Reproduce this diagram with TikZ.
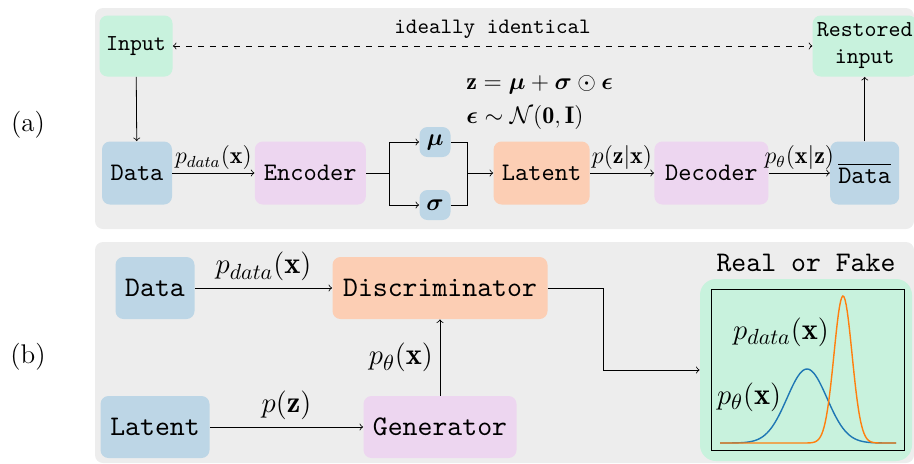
\documentclass[tikz,border=0pt]{standalone}
\usepackage{amsmath}
\usepackage{bm}
\usepackage{fontspec}
\setmonofont{lmmono10-regular.otf}
\usetikzlibrary{positioning,backgrounds}

\definecolor{panel}{RGB}{237,237,237}
\definecolor{cblue}{RGB}{189,214,230}
\definecolor{cpurple}{RGB}{237,214,240}
\definecolor{corange}{RGB}{252,206,180}
\definecolor{cgreen}{RGB}{200,242,221}
\definecolor{pltblue}{RGB}{31,119,180}
\definecolor{pltorange}{RGB}{255,127,14}

\tikzset{
  blk/.style={rounded corners=4pt,inner sep=1pt,minimum height=31.5pt,font=\ttfamily\fontsize{12.6}{14}\selectfont},
  bigblk/.style={blk,minimum height=31pt,font=\ttfamily\fontsize{14.2}{16}\selectfont},
  smallblk/.style={blk,minimum height=30.5pt,align=center,font=\ttfamily\fontsize{11.4}{13.5}\selectfont},
  lbl/.style={inner sep=1.5pt,font=\fontsize{12}{14}\selectfont},
  biglbl/.style={font=\fontsize{15.2}{17}\selectfont},
  panelbox/.style={fill=panel,rounded corners=4pt}
}

\begin{document}
\begin{tikzpicture}[x=0.5pt,y=-0.5pt]
    \useasboundingbox (0,0) rectangle (914,463);
    \fill[panelbox] (95,8) rectangle (914,229);
    \fill[panelbox] (95,242) rectangle (914,463);
    \node[font=\fontsize{13.5}{15}\selectfont] (laba) at (28,125) {(a)};
    \node[font=\fontsize{13.5}{15}\selectfont] (labb) at (28,357) {(b)};

    % (a)
    \node[smallblk,fill=cgreen,minimum width=36.5pt] (input) at (136,46) {Input};
    \node[blk,fill=cblue,minimum width=35pt] (data) at (137,173) {Data};
    \node[blk,fill=cpurple,minimum width=55.5pt,right=41pt of data] (enc) {Encoder};
    \node[blk,fill=corange,minimum width=48pt,right=63.5pt of enc] (lat) {Latent};
    \node[blk,fill=cpurple,minimum width=57pt,right=32pt of lat] (dec) {Decoder};
    \node[blk,fill=cblue,minimum width=34.5pt,right=30.5pt of dec] (datab) {$\overline{\texttt{Data}}$};
    \node[smallblk,fill=cgreen,minimum width=52pt] (rest) at (datab|-input) {Restored\\input};
    \node[blk,fill=cblue,minimum width=15.5pt,minimum height=15pt,font=\fontsize{12}{14}\selectfont] (mu) at (435,142) {$\bm{\mu}$};
    \node[blk,fill=cblue,minimum width=15.5pt,minimum height=15pt,font=\fontsize{12}{14}\selectfont] (sig) at (435,205) {$\bm{\sigma}$};
    \node[lbl,anchor=west] (eqz) at (463,85) {$\mathbf{z}=\bm{\mu}+\bm{\sigma}\odot\bm{\epsilon}$};
    \node[lbl,anchor=west] (eqe) at (463,117) {$\bm{\epsilon}\sim\mathcal{N}(\mathbf{0},\mathbf{I})$};

    \draw[<->,dashed] (input) -- node[above,font=\ttfamily\fontsize{11}{13}\selectfont] {ideally identical} (rest);
    \draw[->] (input) -- (data);
    \draw[->] (data) -- node[above,lbl] {$p_{data}(\mathbf{x})$} (enc);
    \draw (enc.east) -- ++(11.5pt,0) coordinate (split);
    \draw[->] (split) |- (mu);
    \draw[->] (split) |- (sig);
    \coordinate (merge) at (467,173);
    \draw (mu) -| (merge);
    \draw (sig) -| (merge);
    \draw[->] (merge) -- (lat);
    \draw[->] (lat) -- node[above,lbl] {$p(\mathbf{z}|\mathbf{x})$} (dec);
    \draw[->] (dec) -- node[above,lbl] {$p_\theta(\mathbf{x}|\mathbf{z})$} (datab);
    \draw[->] (datab) -- (rest);

    % (b)
    \node[bigblk,fill=cblue,minimum width=39.5pt] (gdata) at (155,288) {Data};
    \node[bigblk,fill=corange,minimum width=107.5pt] (disc) at (440,288) {Discriminator};
    \node[bigblk,fill=cblue,minimum width=54.5pt] (glat) at (155,427) {Latent};
    \node[bigblk,fill=cpurple,minimum width=76.5pt] (gen) at (440,427) {Generator};
    \node[fill=cgreen,rounded corners=8pt,minimum width=106pt,minimum height=91pt] (chart) at (806,370) {};
    \node[above=0pt of chart,font=\ttfamily\fontsize{14.2}{16}\selectfont] (rof) {Real or Fake};

    \draw[->] (gdata) -- node[above,biglbl] {$p_{data}(\mathbf{x})$} (disc);
    \draw[->] (glat) -- node[above,biglbl] {$p(\mathbf{z})$} (gen);
    \draw[->] (gen) -- node[left,biglbl] {$p_\theta(\mathbf{x})$} (disc);
    \draw[->] (disc.east) -- ++(27.5pt,0) |- (chart.west);

    \draw (711,289) rectangle (904,450);
    \draw[pltblue,line width=0.7pt] plot[domain=720:896,samples=120] (\x,{443-74*exp(-((\x-807)*(\x-807))/800)});
    \draw[pltorange,line width=0.7pt] plot[domain=720:896,samples=160] (\x,{443-147*exp(-((\x-843)*(\x-843))/162)});
    \node[biglbl] (pdata) at (781,332) {$p_{data}(\mathbf{x})$};
    \node[biglbl] (ptheta) at (749,397) {$p_\theta(\mathbf{x})$};
\end{tikzpicture}
\end{document}
